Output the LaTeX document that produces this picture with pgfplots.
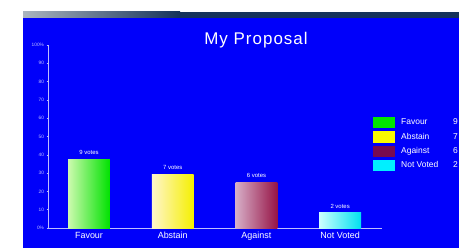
\documentclass[border=0pt]{standalone}
\usepackage{pgfplots}
\pgfplotsset{compat=1.18}
\usepackage{fontspec}
\setmainfont{Liberation Sans}
\definecolor{bgblue}{RGB}{0,0,250}
\definecolor{axcol}{RGB}{190,190,255}
\definecolor{favL}{RGB}{205,250,175}
\definecolor{favR}{RGB}{0,225,0}
\definecolor{absL}{RGB}{255,245,205}
\definecolor{absR}{RGB}{245,240,0}
\definecolor{agaL}{RGB}{215,175,200}
\definecolor{agaR}{RGB}{150,20,70}
\definecolor{notL}{RGB}{205,255,255}
\definecolor{notR}{RGB}{0,225,240}
\definecolor{legG}{RGB}{0,230,0}
\definecolor{legY}{RGB}{250,250,0}
\definecolor{legA}{RGB}{120,10,80}
\definecolor{legC}{RGB}{0,240,255}
\definecolor{stripL}{RGB}{170,180,190}
\definecolor{stripR}{RGB}{20,50,90}
\pgfplotsset{
  legend image code/.code={\fill[#1] (0bp,-5.6bp) rectangle (22bp,5.6bp);},
  mybar/.style={ybar, bar width=0.5, bar shift=0pt, draw=none, forget plot,
    nodes near coords style={font=\fontsize{6}{7}\selectfont, text=white, anchor=south, yshift=1bp}},
}
\begin{document}
\begin{tikzpicture}
\useasboundingbox (0,0) rectangle (459bp,248bp);
\clip (0,0) rectangle (459bp,248bp);
\fill[white] (0,0) rectangle (459bp,248bp);
\fill[bgblue] (23bp,0) rectangle (459bp,230bp);
\shade[left color=stripL, right color=stripR] (23bp,230bp) rectangle (180bp,236bp);
\fill[stripR] (180bp,230bp) rectangle (459bp,236bp);
\node[text=white, font=\fontsize{17}{20}\selectfont\addfontfeature{LetterSpace=6}] at (256bp,208bp) {My Proposal};
\begin{axis}[
  at={(48bp,20bp)}, anchor=south west,
  scale only axis, width=334bp, height=183bp,
  xmin=-0.49, xmax=3.5, ymin=0, ymax=100,
  axis x line=bottom, axis y line=left,
  axis line style={axcol, line width=0.6bp, -},
  xtick={0,1,2,3},
  xticklabels={Favour,Abstain,Against,Not Voted},
  xtick style={draw=none},
  xticklabel style={font=\fontsize{9}{10}\selectfont, text=white, yshift=1bp},
  ytick={0,10,...,100},
  yticklabels={0\%,10,20,30,40,50,60,70,80,90,100\%},
  yticklabel style={font=\fontsize{4.8}{5}\selectfont, text=axcol, xshift=1bp},
  ytick style={axcol, line width=0.5bp},
  tick align=center, major tick length=3bp,
  /pgf/number format/assume math mode=true,
  legend style={at={(0.973,0.607)}, anchor=north west, draw=none, fill=none,
    inner sep=0pt, row sep=3bp, font=\fontsize{8.5}{9}\selectfont, text=white,
    nodes={inner sep=1bp},
    /tikz/every odd column/.append style={column sep=5bp}},
  legend cell align=left,
]
\addplot[mybar, left color=favL, right color=favR, nodes near coords={9 votes}] coordinates {(0,37.5)};
\addplot[mybar, left color=absL, right color=absR, nodes near coords={7 votes}] coordinates {(1,29.2)};
\addplot[mybar, left color=agaL, right color=agaR, nodes near coords={6 votes}] coordinates {(2,25.0)};
\addplot[mybar, left color=notL, right color=notR, nodes near coords={2 votes}] coordinates {(3,8.3)};
\addlegendimage{fill=legG, draw=none}
\addlegendentry{\makebox[52bp][l]{Favour}9}
\addlegendimage{fill=legY, draw=none}
\addlegendentry{\makebox[52bp][l]{Abstain}7}
\addlegendimage{fill=legA, draw=none}
\addlegendentry{\makebox[52bp][l]{Against}6}
\addlegendimage{fill=legC, draw=none}
\addlegendentry{\makebox[52bp][l]{Not Voted}2}
\end{axis}
\end{tikzpicture}
\end{document}
